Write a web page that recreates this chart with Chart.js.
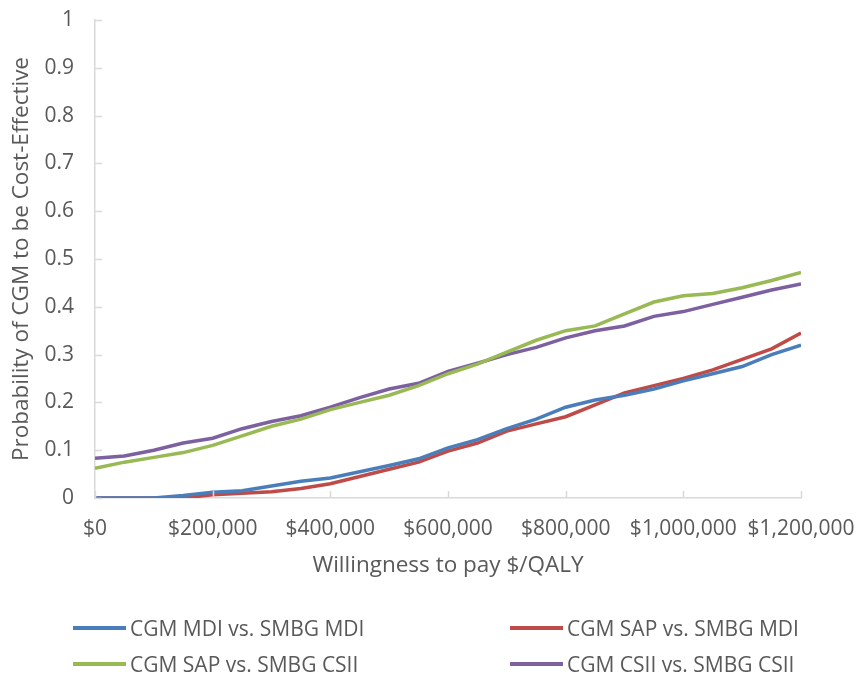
<!DOCTYPE html>
<html>
<head>
<meta charset="utf-8">
<script src="https://cdn.jsdelivr.net/npm/chart.js@4.4.1/dist/chart.umd.min.js"></script>
<style>
  body { margin: 0; background: #fff; }
  .wrap { position: relative; width: 858px; height: 675px; }
  .chartBox { position: absolute; left: 0; top: 0; width: 858px; height: 600px; }
  .legend { position: absolute; left: 0; top: 0; width: 858px; height: 675px; pointer-events: none;
            font-family: "Open Sans", sans-serif; font-size: 21px; color: #595959; }
  .legend .item { position: absolute; display: flex; align-items: center; white-space: nowrap; }
  .legend .swatch { width: 53px; height: 4px; margin-right: 4px; }
</style>
</head>
<body>
<div class="wrap">
  <div class="chartBox"><canvas id="ceac"></canvas></div>
  <div class="legend" id="legend"></div>
</div>
<script>
// willingness to pay ($/QALY)
const wtp = [0, 50000, 100000, 150000, 200000, 250000, 300000, 350000, 400000, 450000, 500000, 550000,
             600000, 650000, 700000, 750000, 800000, 850000, 900000, 950000, 1000000, 1050000, 1100000, 1150000, 1200000];

const seriesNames = ["CGM MDI vs. SMBG MDI", "CGM SAP vs. SMBG MDI", "CGM SAP vs. SMBG CSII", "CGM CSII vs. SMBG CSII"];
const seriesColors = ["#4a7ebb", "#be4b48", "#98b954", "#7d60a0"];

const mdiVsMdi = [0, 0, 0, 0.005, 0.012, 0.015, 0.025, 0.035, 0.042, 0.055, 0.068, 0.082,
                  0.105, 0.122, 0.145, 0.165, 0.19, 0.205, 0.215, 0.228, 0.245, 0.26, 0.275, 0.3, 0.32];
const sapVsMdi  = [0, 0, 0, 0, 0.007, 0.01, 0.013, 0.02, 0.03, 0.045, 0.06, 0.075,
                  0.098, 0.115, 0.14, 0.155, 0.17, 0.195, 0.22, 0.235, 0.25, 0.268, 0.29, 0.312, 0.345];
const sapVsCsii = [0.062, 0.075, 0.085, 0.095, 0.11, 0.13, 0.15, 0.165, 0.185, 0.2, 0.215, 0.235,
                  0.26, 0.28, 0.305, 0.33, 0.35, 0.36, 0.385, 0.41, 0.423, 0.428, 0.44, 0.455, 0.472];
const csiiVsCsii = [0.083, 0.088, 0.1, 0.115, 0.125, 0.145, 0.16, 0.172, 0.19, 0.21, 0.228, 0.24,
                  0.265, 0.282, 0.3, 0.315, 0.335, 0.35, 0.36, 0.38, 0.39, 0.405, 0.42, 0.435, 0.448];

const seriesValues = [mdiVsMdi, sapVsMdi, sapVsCsii, csiiVsCsii];

const xMin = 0, xMax = 1200000, xStep = 200000;
const yMin = 0, yMax = 1, yStep = 0.1;

const axisGrey = "#d9d9d9";
const textGrey = "#595959";
const fontFamily = "'Open Sans', sans-serif";

// Excel style tick marks that point into the plot
const insideTicks = {
    id: "insideTicks",
    afterDraw(chart) {
        const { ctx, chartArea, scales } = chart;
        ctx.save();
        ctx.strokeStyle = axisGrey;
        ctx.lineWidth = 1.5;
        ctx.beginPath();
        scales.x.ticks.forEach(t => {
            const px = Math.round(scales.x.getPixelForValue(t.value)) + 0.5;
            ctx.moveTo(px, chartArea.bottom);
            ctx.lineTo(px, chartArea.bottom - 7);
        });
        scales.y.ticks.forEach(t => {
            const py = Math.round(scales.y.getPixelForValue(t.value)) + 0.5;
            ctx.moveTo(chartArea.left, py);
            ctx.lineTo(chartArea.left + 7, py);
        });
        ctx.stroke();
        ctx.restore();
    }
};

const ctx = document.getElementById("ceac").getContext("2d");
const chart = new Chart(ctx, {
    type: "line",
    data: {
        datasets: seriesNames.map((name, i) => ({
            label: name,
            data: wtp.map((x, j) => ({ x: x, y: seriesValues[i][j] })),
            borderColor: seriesColors[i],
            backgroundColor: seriesColors[i],
            borderWidth: 3.5,
            pointRadius: 0,
            tension: 0
        }))
    },
    options: {
        responsive: true,
        maintainAspectRatio: false,
        animation: false,
        layout: { padding: { left: 0, right: 57, top: 20, bottom: 0 } },
        plugins: {
            legend: { display: false },
            tooltip: { enabled: false }
        },
        scales: {
            x: {
                type: "linear",
                min: xMin,
                max: xMax,
                afterFit: s => { s.height = 102; s.paddingLeft = 0; s.paddingRight = 0; },
                grid: { display: true, drawOnChartArea: false, drawTicks: false, color: "rgba(0,0,0,0)" },
                border: { display: true, color: axisGrey, width: 1.5 },
                ticks: {
                    stepSize: xStep,
                    padding: 18,
                    color: textGrey,
                    maxRotation: 0,
                    autoSkip: false,
                    font: { family: fontFamily, size: 21 },
                    callback: v => "$" + v.toLocaleString("en-US")
                },
                title: {
                    display: true,
                    text: "Willingness to pay $/QALY",
                    color: textGrey,
                    padding: { top: 0, bottom: 21 },
                    font: { family: fontFamily, size: 22.5 }
                }
            },
            y: {
                min: yMin,
                max: yMax,
                afterFit: s => { s.width = 95; s.paddingTop = 0; s.paddingBottom = 0; },
                grid: { display: true, drawOnChartArea: false, drawTicks: false, color: "rgba(0,0,0,0)" },
                border: { display: true, color: axisGrey, width: 1.5 },
                ticks: {
                    stepSize: yStep,
                    padding: 21,
                    color: textGrey,
                    font: { family: fontFamily, size: 21 },
                    callback: v => String(+v.toFixed(1))
                },
                title: {
                    display: true,
                    text: "Probability of CGM to be Cost-Effective",
                    color: textGrey,
                    padding: { top: 8, bottom: 0 },
                    font: { family: fontFamily, size: 22.5 }
                }
            }
        }
    },
    plugins: [insideTicks]
});

// legend in two columns, like the original
const legendSpots = [[73, 628], [510, 628], [73, 664], [510, 664]];
const legendEl = document.getElementById("legend");
chart.data.datasets.forEach((ds, i) => {
    const item = document.createElement("div");
    item.className = "item";
    item.style.left = legendSpots[i][0] + "px";
    item.style.top = (legendSpots[i][1] - 15) + "px";
    item.style.height = "30px";
    const sw = document.createElement("span");
    sw.className = "swatch";
    sw.style.background = ds.borderColor;
    const tx = document.createElement("span");
    tx.textContent = ds.label;
    item.appendChild(sw);
    item.appendChild(tx);
    legendEl.appendChild(item);
});
</script>
</body>
</html>
